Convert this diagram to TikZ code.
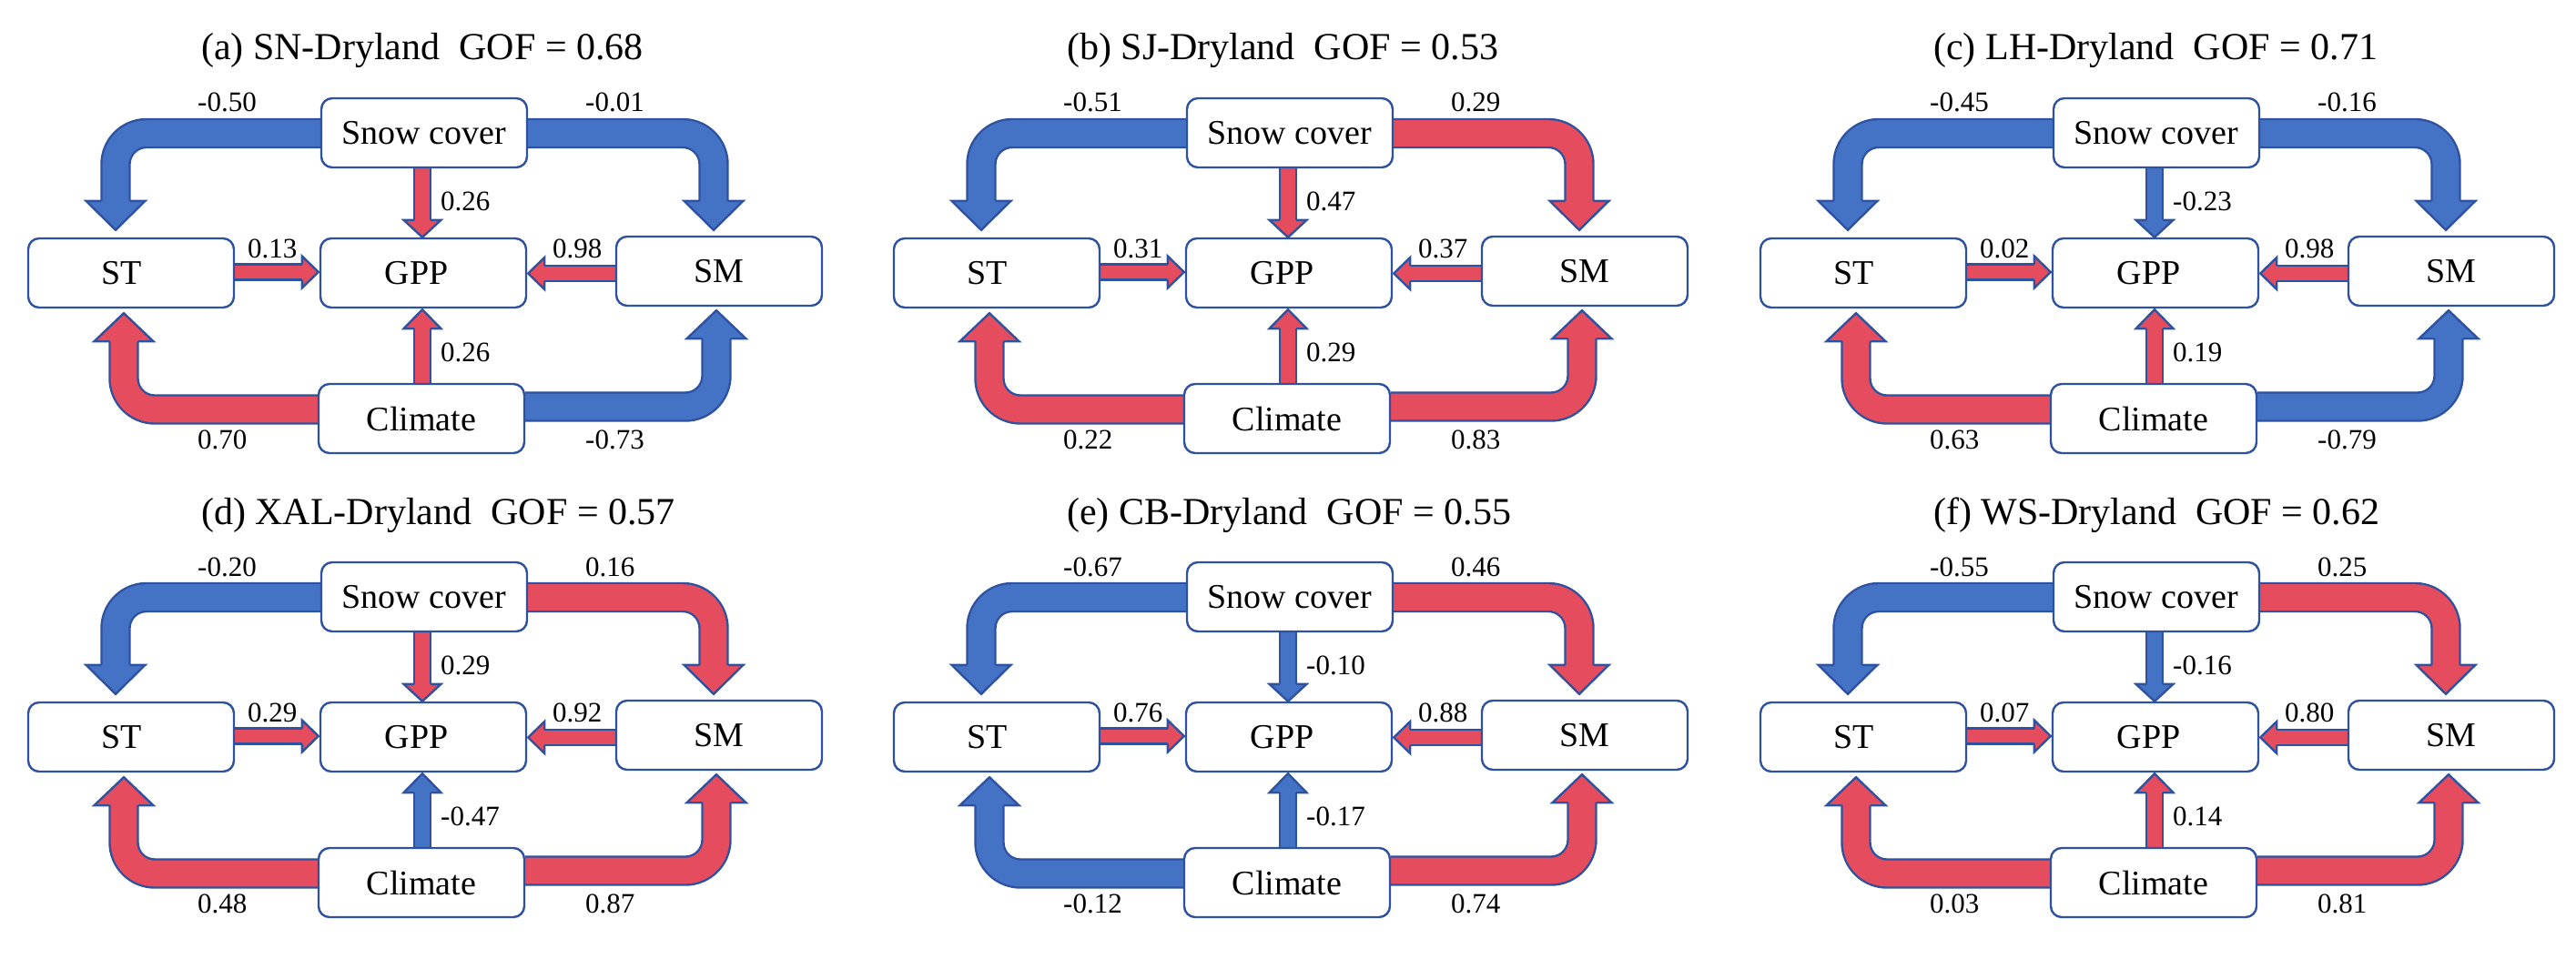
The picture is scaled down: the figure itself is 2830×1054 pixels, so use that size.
\documentclass[tikz,border=0pt]{standalone}
\usepackage{fontspec}
\setmainfont{Liberation Serif}
\newfontfamily\tnr{Liberation Serif}
\usetikzlibrary{calc}
\definecolor{bluef}{RGB}{68,114,196}
\definecolor{redf}{RGB}{229,76,94}
\definecolor{olc}{RGB}{47,82,160}
\pgfdeclarelayer{back}
\pgfdeclarelayer{bg}
\pgfsetlayers{back,bg,main}
\def\ow{2.4pt}
\tikzset{
  box/.style={draw=olc, line width=2.4pt, rounded corners=12pt, fill=white,
    minimum width=226pt, minimum height=76pt, inner sep=0pt,
    font=\tnr\fontsize{38}{44}\selectfont},
  ttl/.style={anchor=base west, inner sep=0pt, font=\tnr\fontsize{42}{48}\selectfont},
  lbl/.style={anchor=base west, inner sep=0pt, font=\tnr\fontsize{31}{36}\selectfont},
}
% block arrow: #1 fill, #2 path up to base, #3 base, #4 tip, #5 shaft half width, #6 head half width
\newcommand\blk[6]{%
  \begin{pgfonlayer}{bg}
  \draw[line width=2*#5pt+\ow, draw=olc, rounded corners=34pt] #2 ($(#3)!1pt!(#4)$);
  \draw[line width=2*#5pt-\ow, draw=#1, rounded corners=34pt] #2 ($(#3)!1pt!(#4)$);
  \fill[#1] ($(#3)!#6pt!90:(#4)$) -- (#4) -- ($(#3)!#6pt!-90:(#4)$) -- cycle;
  \draw[line width=\ow, draw=olc, line join=miter]
    ($(#3)!#5pt!90:(#4)$) -- ($(#3)!#6pt!90:(#4)$) -- (#4) --
    ($(#3)!#6pt!-90:(#4)$) -- ($(#3)!#5pt!-90:(#4)$);
  \end{pgfonlayer}}
% Snow cover -> ST
\newcommand\arri[3]{%
  \coordinate (s) at ($(#1-snow.west)+(0,0.5)$);
  \coordinate (t) at ($(#1-st.north)+(-17,-8)$);
  \coordinate (b) at ($(t)+(0,-32)$);
  \blk{#2}{(s) -- (t |- s) --}{b}{t}{15.5}{32.5}
  \node[lbl] (#1-l1) at (217,123) {#3};}
% Snow cover -> SM
\newcommand\arrii[3]{%
  \coordinate (s) at ($(#1-snow.east)+(0,0.5)$);
  \coordinate (t) at ($(#1-sm.north)+(-6,-6)$);
  \coordinate (b) at ($(t)+(0,-32)$);
  \blk{#2}{(s) -- (t |- s) --}{b}{t}{15.5}{32.5}
  \node[lbl] (#1-l2) at (643,123) {#3};}
% Snow cover -> GPP
\newcommand\arriii[3]{%
  \coordinate (s) at ($(#1-snow.south)+(-2,0)$);
  \coordinate (t) at ($(#1-gpp.north)+(-1,0)$);
  \coordinate (b) at ($(t)+(0,-19)$);
  \blk{#2}{(s) --}{b}{t}{9}{20.5}
  \node[lbl] (#1-l3) at (484,231) {#3};}
% ST -> GPP
\newcommand\arriv[3]{%
  \coordinate (t) at ($(#1-gpp.west)+(-1,-1)$);
  \coordinate (s) at (t -| #1-st.east);
  \coordinate (b) at ($(t)+(-18,0)$);
  \blk{#2}{(s) --}{b}{t}{8.5}{17.5}
  \node[lbl] (#1-l4) at (272,283) {#3};}
% SM -> GPP
\newcommand\arrv[3]{%
  \coordinate (t) at ($(#1-gpp.east)+(1,0.5)$);
  \coordinate (s) at (t -| #1-sm.west);
  \coordinate (b) at ($(t)+(18,0)$);
  \blk{#2}{(s) --}{b}{t}{8.5}{17.5}
  \node[lbl] (#1-l5) at (607,283) {#3};}
% Climate -> GPP
\newcommand\arrvi[3]{%
  \coordinate (s) at ($(#1-clim.north)+(1,0)$);
  \coordinate (t) at ($(#1-gpp.south)+(-1,1)$);
  \coordinate (b) at ($(t)+(0,21)$);
  \blk{#2}{(s) --}{b}{t}{9}{20.5}
  \node[lbl] (#1-l6) at (484,397) {#3};}
% Climate -> ST
\newcommand\arrvii[3]{%
  \coordinate (s) at ($(#1-clim.west)+(0,-10)$);
  \coordinate (t) at ($(#1-st.south)+(-8,5)$);
  \coordinate (b) at ($(t)+(0,31)$);
  \blk{#2}{(s) -- (t |- s) --}{b}{t}{15.5}{32.5}
  \node[lbl] (#1-l7) at (217,493) {#3};}
% Climate -> SM
\newcommand\arrviii[3]{%
  \coordinate (s) at ($(#1-clim.east)+(0,-13)$);
  \coordinate (t) at ($(#1-sm.south)+(-3,4)$);
  \coordinate (b) at ($(t)+(0,31)$);
  \blk{#2}{(s) -- (t |- s) --}{b}{t}{15.5}{32.5}
  \node[lbl] (#1-l8) at (643,493) {#3};}
% panel: #1 prefix, #2 shift, #3 title, #4 list colour/label
\newcommand\sempanel[4]{%
  \begin{scope}[shift={#2}]
  \node[ttl] (#1-title) at (221,66) {#3};
  \node[box] (#1-snow) at (466,146) {Snow cover};
  \node[box] (#1-st) at (144,300) {\hspace*{-20pt}ST};
  \node[box] (#1-gpp) at (465,300) {\hspace*{-15pt}GPP};
  \node[box] (#1-sm) at (790,298) {SM};
  \node[box] (#1-clim) at (463,460) {Climate};
  \foreach \c/\l [count=\i] in {#4} {%
    \csname arr\romannumeral\i\endcsname{#1}{\c}{\l}%
  }
  \end{scope}}
\begin{document}
\begin{tikzpicture}[x=1pt, y=-1pt]
\begin{pgfonlayer}{back}
\fill[white] (0,0) rectangle (2830,1054);
\end{pgfonlayer}
\useasboundingbox (0,0) rectangle (2830,1054);
\sempanel{a}{(0,0)}{(a) SN-Dryland\ \ GOF = 0.68}
  {bluef/-0.50, bluef/-0.01, redf/0.26, redf/0.13, redf/0.98, redf/0.26, redf/0.70, bluef/-0.73}
\sempanel{b}{(951,0)}{(b) SJ-Dryland\ \ GOF = 0.53}
  {bluef/-0.51, redf/0.29, redf/0.47, redf/0.31, redf/0.37, redf/0.29, redf/0.22, redf/0.83}
\sempanel{c}{(1903,0)}{(c) LH-Dryland\ \ GOF = 0.71}
  {bluef/-0.45, bluef/-0.16, bluef/-0.23, redf/0.02, redf/0.98, redf/0.19, redf/0.63, bluef/-0.79}
\sempanel{d}{(0,510)}{(d) XAL-Dryland\ \ GOF = 0.57}
  {bluef/-0.20, redf/0.16, redf/0.29, redf/0.29, redf/0.92, bluef/-0.47, redf/0.48, redf/0.87}
\sempanel{e}{(951,510)}{(e) CB-Dryland\ \ GOF = 0.55}
  {bluef/-0.67, redf/0.46, bluef/-0.10, redf/0.76, redf/0.88, bluef/-0.17, bluef/-0.12, redf/0.74}
\sempanel{f}{(1903,510)}{(f) WS-Dryland\ \ GOF = 0.62}
  {bluef/-0.55, redf/0.25, bluef/-0.16, redf/0.07, redf/0.80, redf/0.14, redf/0.03, redf/0.81}
\end{tikzpicture}
\end{document}
